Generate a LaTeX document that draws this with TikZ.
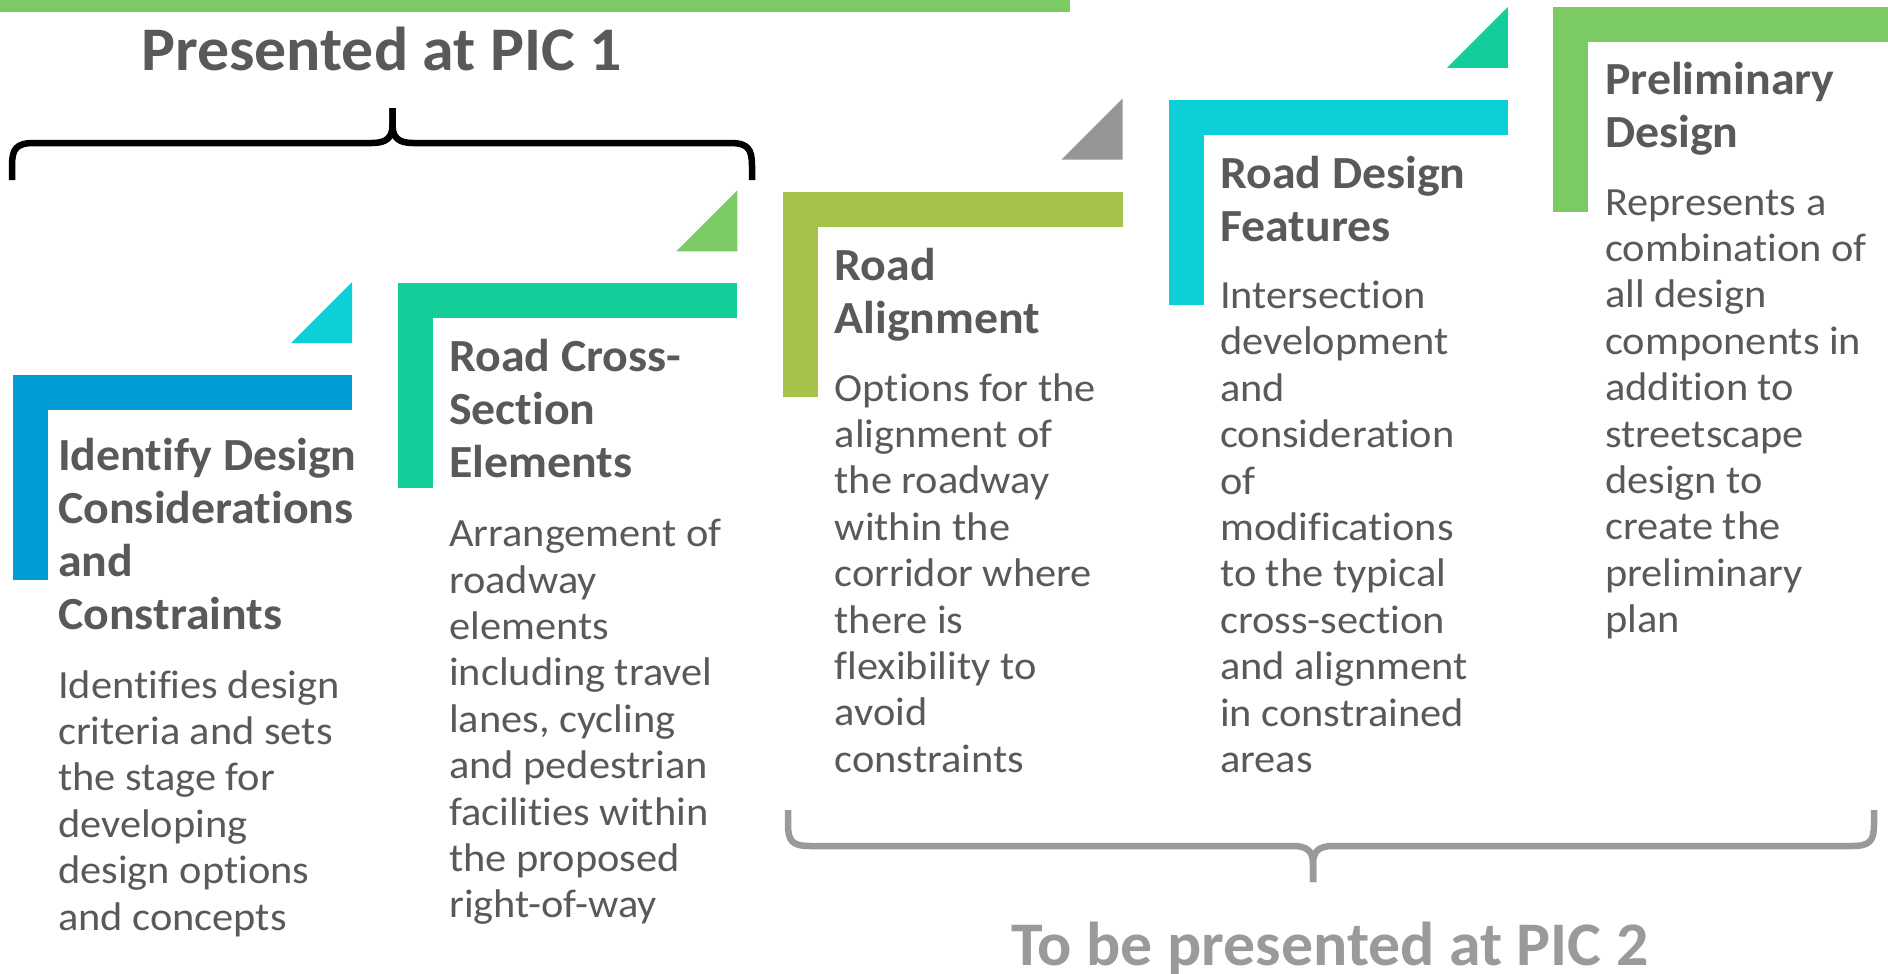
\documentclass[tikz,border=0pt]{standalone}
\usepackage{fontspec}
\setmainfont[Ligatures=CommonOff]{Carlito}
\newfontfamily\headfont[Ligatures=CommonOff, FakeStretch=1.03]{Carlito}
\newfontfamily\titlefont[Ligatures=CommonOff, FakeStretch=1.04]{Carlito}
\newfontfamily\bodyfont[Ligatures=CommonOff, FakeStretch=1.06]{Carlito}

\usetikzlibrary{calc}

\definecolor{stageblue}{HTML}{029DD7}
\definecolor{stageteal}{HTML}{13CE9A}
\definecolor{stageolive}{HTML}{A6C24A}
\definecolor{stagecyan}{HTML}{0DCFD8}
\definecolor{stagegreen}{HTML}{7CCA63}
\definecolor{cornergray}{HTML}{969696}
\definecolor{textgray}{HTML}{595959}
\definecolor{lightgray}{HTML}{9A9A9A}

% L-shaped frame of a stage: top bar and left bar, from its top-left corner
\newcommand{\stageframe}[3]{%
  \fill[#3] (#1,#2) rectangle ++(339.3,35);
  \fill[#3] (#1,#2) rectangle ++(35,205);
}
% small right-angled corner flag above the right end of a frame
\newcommand{\stageflag}[3]{%
  \fill[#3] ($(#1,#2)+(339.3,-32)$) -- ++(0,-61) -- ++(-61,61) -- cycle;
}

\tikzset{
  stagetitle/.style={anchor=base west, inner sep=0pt, text=textgray,
    font=\titlefont\fontsize{46}{53}\selectfont\bfseries},
  stagetext/.style={anchor=base west, inner sep=0pt, text=textgray,
    font=\bodyfont\fontsize{40}{46.4}\selectfont},
  headline/.style={anchor=base, inner sep=0pt,
    font=\headfont\fontsize{62}{70}\selectfont\bfseries},
  bracket/.style={line width=6.5pt, line join=round, line cap=butt},
}

\newcommand{\lines}[1]{\parbox[t]{420pt}{\raggedright #1}}

\begin{document}
\begin{tikzpicture}[x=1pt, y=-1pt]
  \useasboundingbox (0,0) rectangle (1888,974);
  \clip (0,0) rectangle (1888,974);

  % top rule
  \fill[stagegreen] (0,0) rectangle (1070,12);

  % headings
  \node[headline, text=textgray] (pic1) at (381.5,70.7) {Presented at PIC 1};
  \node[headline, text=lightgray] (pic2) at (1330,965) {To be presented at PIC 2};

  % upper brace
  \coordinate (ua) at (12,180);
  \coordinate (ub) at (752,180);
  \coordinate (ut) at (392.5,108);
  \draw[bracket, black] (ua) -- ++(0,-14) .. controls ++(0,-17) and ++(-18,0) .. (34,143)
    -- (372,143) .. controls (386,143) and (392.5,138) .. (392.5,125) -- (ut);
  \draw[bracket, black] (ub) -- ++(0,-14) .. controls ++(0,-17) and ++(18,0) .. (730,143)
    -- (413,143) .. controls (399,143) and (392.5,138) .. (392.5,125) -- (ut);

  % lower brace
  \coordinate (la) at (788,810);
  \coordinate (lb) at (1874,810);
  \coordinate (lt) at (1313,882);
  \draw[bracket, lightgray] (la) -- ++(0,14) .. controls ++(0,17) and ++(-18,0) .. (810,846)
    -- (1293,846) .. controls (1307,846) and (1313,851) .. (1313,864) -- (lt);
  \draw[bracket, lightgray] (lb) -- ++(0,14) .. controls ++(0,17) and ++(18,0) .. (1852,846)
    -- (1333,846) .. controls (1319,846) and (1313,851) .. (1313,864) -- (lt);

  % stage 1
  \stageflag{12.7}{375}{stagecyan}
  \stageframe{12.7}{375}{stageblue}
  \node[stagetitle] (t1) at (58,470) {\lines{Identify Design\\Considerations\\and\\Constraints}};
  \node[stagetext] (d1) at (58,698) {\lines{Identifies design\\criteria and sets\\the stage for\\developing\\design options\\and concepts}};

  % stage 2
  \stageflag{398}{283.3}{stagegreen}
  \stageframe{398}{283.3}{stageteal}
  \node[stagetitle] (t2) at (449,371) {\lines{Road Cross-\\Section\\Elements}};
  \node[stagetext] (d2) at (449,546.7) {\lines{Arrangement of\\roadway\\elements\\including travel\\lanes, cycling\\and pedestrian\\facilities within\\the proposed\\right-of-way}};

  % stage 3
  \stageflag{783.3}{191.6}{cornergray}
  \stageframe{783.3}{191.6}{stageolive}
  \node[stagetitle] (t3) at (834.5,280) {\lines{Road\\Alignment}};
  \node[stagetext] (d3) at (834.5,401) {\lines{Options for the\\alignment of\\the roadway\\within the\\corridor where\\there is\\flexibility to\\avoid\\constraints}};

  % stage 4
  \stageflag{1168.6}{99.9}{stageteal}
  \stageframe{1168.6}{99.9}{stagecyan}
  \node[stagetitle] (t4) at (1220,188.5) {\lines{Road Design\\Features}};
  \node[stagetext] (d4) at (1220,308.5) {\lines{Intersection\\development\\and\\consideration\\of\\modifications\\to the typical\\cross-section\\and alignment\\in constrained\\areas}};

  % stage 5
  \stageframe{1553.3}{6.7}{stagegreen}
  \node[stagetitle] (t5) at (1605,95) {\lines{Preliminary\\Design}};
  \node[stagetext] (d5) at (1605,215) {\lines{Represents a\\combination of\\all design\\components in\\addition to\\streetscape\\design to\\create the\\preliminary\\plan}};
\end{tikzpicture}
\end{document}
